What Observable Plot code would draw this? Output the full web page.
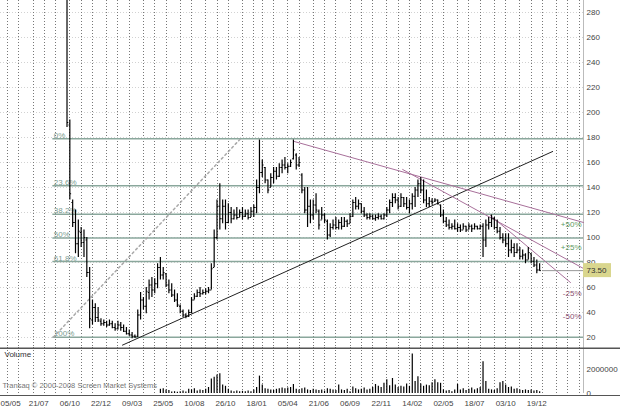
<!DOCTYPE html>
<html><head><meta charset="utf-8">
<script src="https://cdn.jsdelivr.net/npm/d3@7"></script>
<script src="https://cdn.jsdelivr.net/npm/@observablehq/plot@0.6"></script>
<style>
html,body{margin:0;padding:0;background:#fff;}
#chart{width:620px;height:410px;overflow:hidden;}
#chart svg{display:block;}
</style></head><body><div id="chart"></div>
<script>
// ---------- DATA (weekly bars, index 0 = 05/05/2000) ----------
const firstBarIndex = 21;
const highs = [
330,194,130,122,114,108,106,100,76,50,
47,44,35,34,33,34,33,31,33,32,
30,28,26,24,22,42,56,52,60,66,
68,67,79,84,76,71,66,63,58,55,
46,42,39,42,52,55,58,60,58,59,
60,79,106,130,143,130,130,127,124,122,
124,122,124,122,122,124,126,146,178,162,
156,146,151,156,156,159,162,164,159,162,
178,167,164,151,140,140,130,130,135,122,
124,119,114,111,114,116,114,116,116,114,
119,130,132,130,127,124,119,119,118,118,
119,118,119,124,130,135,135,132,135,132,
132,130,135,140,146,148,146,138,132,131,
131,130,126,122,116,114,111,114,111,110,
111,109,111,110,111,109,110,111,114,116,
118,116,114,108,103,103,103,98,95,95,
92,90,87,92,87,84,82,79];
const lows = [
188,130,108,87,84,92,84,68,27,30,
32,32,29,29,28,29,27,25,26,25,
24,22,21,19,19.5,20,34,42,39,50,
52,55,59,66,66,60,55,52,48,44,
39,36,35,36,39,50,52,52,54,54,
55,58,76,98,106,111,106,111,111,114,
114,116,114,116,114,116,116,119,135,148,
143,135,140,143,146,148,151,154,151,156,
162,154,156,135,119,108,111,114,119,106,
114,111,98,100,106,106,106,106,108,108,
111,116,122,122,119,116,114,114,114,113,
114,114,114,116,119,124,127,122,124,124,
122,119,122,124,132,135,127,124,124,126,
128,126,116,111,108,106,106,106,104,104,
106,104,106,104,106,106,106,84,92,106,
108,106,103,98,95,92,84,87,84,87,
82,82,79,82,79,76,71,73];
const opens = [
320,190,128,112,95,104,96,98,72,34,
44,36,33,31,32,30,31,28,27,30,
28,25,23,22,21,21,38,50,45,56,
62,58,63,76,70,71,62,58,54,50,
45,41,38,37,40,50,53,56,55,56,
57,58,76,100,125,115,125,112,120,115,
118,116,120,117,119,116,121,124,140,152,
156,146,140,148,153,149,156,158,156,157,
163,166,158,150,138,122,125,118,126,121,
114,118,113,102,108,110,108,112,109,113,
111,117,128,125,127,121,118,116,117,115,
116,117,115,118,122,128,132,130,125,132,
127,124,127,133,138,143,138,130,127,129,
129,130,126,118,113,110,108,109,107,108,
106,109,106,109,107,109,107,109,98,110,
112,115,108,105,100,98,95,90,92,88,
90,85,86,82,87,81,78,74];
const closes = [
192,135,112,95,105,96,100,72,35,44,
36,34,31,32,30,31,28,27,30,28,
25,23,22,21,20.5,38,50,45,57,62,
58,63,76,70,72,62,58,54,50,46,
41,38,37,40,50,53,56,55,56,57,
58,75,100,125,115,125,112,120,115,118,
116,120,117,119,116,121,124,140,152,158,
146,138,148,153,149,156,158,156,157,160,
170,158,160,138,122,125,118,126,122,110,
118,114,102,108,110,108,112,109,113,111,
117,128,125,127,121,118,116,117,115,116,
117,115,118,122,128,132,130,125,132,127,
124,127,133,138,143,138,130,127,129,128,
130,127,118,113,110,108,109,107,108,106,
109,106,109,107,109,107,109,98,110,112,
115,108,105,100,98,95,90,92,88,90,
85,86,82,88,81,78,74,73.5];

const volumeStartIndex = 54;
const volumes = [
350000,400000,300000,250000,120000,150000,100000,150000,200000,120000,
350000,300000,400000,200000,300000,250000,350000,500000,1200000,1350000,
1550000,1650000,700000,600000,350000,200000,150000,200000,150000,180000,
150000,200000,150000,300000,500000,1450000,700000,400000,350000,300000,
250000,350000,400000,450000,400000,450000,500000,750000,350000,300000,
400000,450000,300000,250000,350000,300000,250000,300000,200000,400000,
350000,300000,250000,700000,300000,250000,350000,150000,550000,400000,
300000,350000,450000,300000,350000,500000,750000,600000,500000,850000,
1150000,650000,1250000,700000,500000,600000,550000,800000,600000,3300000,
1000000,1400000,800000,600000,700000,650000,900000,1150000,900000,850000,
300000,200000,250000,150000,300000,750000,300000,400000,250000,350000,
450000,300000,400000,500000,2650000,1000000,350000,300000,250000,400000,
900000,1000000,700000,500000,550000,350000,400000,300000,250000,300000,
250000,300000,200000,250000,150000];

const dateLabels = ["05/05","21/07","06/10","22/12","09/03","25/05","10/08","26/10","18/01",
  "05/04","21/06","06/09","22/11","14/02","02/05","18/07","03/10","19/12"];
const labelEvery = 11;
const startDate = "2000-05-05";
const skippedWeeks = ["2002-01-04", "2003-01-03"];

const priceTicks = [20,40,60,80,100,120,140,160,180,200,220,240,260,280];
const volumeTicks = [0, 2000000];

const fibLabels = ["0%","23.6%","38.2%","50%","61.8%","100%"];
const fibValues = [179, 141.5, 118.6, 99.7, 80.8, 20.3];
const fibStartIndex = 16;

const fanLabels = ["+50%","+25%","-25%","-50%"];
const fanValues = [110.4, 92.3, 55.5, 36.8];

// trend lines as [bar index, price] pairs
const supportLine = [[40.6, 13.9], [192.6, 168.8]];
const fibDiagonal = [[16.2, 20.3], [82.3, 179]];
const fanLine1 = [[101, 177], [203.5, 112]];
const fanLine2 = [[139.6, 154.4], [203.5, 75.2]];
const fanLine3 = [[170.6, 117.6], [198.9, 64]];

// ---------- BUILD ----------
const xDomain = [-2.5, 203.5];
const priceDomain = [12, 289.6];
const volumeDomain = [0, 3833000];

const bars = highs.map((h, k) => ({i: firstBarIndex + k, high: h, low: lows[k], open: opens[k], close: closes[k]}));
const volBars = volumes.map((v, k) => ({i: volumeStartIndex + k, volume: v}));
const fibLevels = fibLabels.map((label, k) => ({label, value: fibValues[k]}));
const fanLevels = fanLabels.map((label, k) => ({label, value: fanValues[k]}));
const lastBar = bars[bars.length - 1];
const dateTicks = dateLabels.map((label, k) => ({i: k * labelEvery, label}));

const barDates = [];
for (let d = new Date(startDate + "T00:00:00Z"); barDates.length < 210; d = d3.utcDay.offset(d, 7)) {
  if (!skippedWeeks.includes(d.toISOString().slice(0, 10))) barDates.push(d);
}
const monthStarts = barDates.map((d, i) => i)
  .filter(i => i === 0 || barDates[i].getUTCMonth() !== barDates[i - 1].getUTCMonth())
  .filter(i => i <= xDomain[1]);

const font = "'Liberation Sans', Arial, sans-serif";
const baseStyle = {fontFamily: font, fontSize: "8px", color: "#444", background: "white"};
const gridV = {stroke: "#777", strokeDasharray: "1,2", shapeRendering: "crispEdges"};
const xy = {x: d => d[0], y: d => d[1]};

const pricePlot = Plot.plot({
  width: 620, height: 347,
  marginLeft: 0, marginRight: 37, marginTop: 0, marginBottom: 0,
  style: baseStyle,
  x: {domain: xDomain, axis: null},
  y: {domain: priceDomain, axis: "right", ticks: priceTicks, tickSize: 0, tickPadding: 3, tickFormat: "d", label: null},
  marks: [
    Plot.ruleY(priceTicks, {stroke: "#d2d2d2", strokeDasharray: "1,2", shapeRendering: "crispEdges"}),
    Plot.ruleX(monthStarts, gridV),
    Plot.ruleX([xDomain[1]], {stroke: "#bbb"}),
    Plot.ruleY(fibLevels, {y: "value", x1: fibStartIndex, x2: xDomain[1], stroke: "#8aa79c", strokeWidth: 1.5}),
    Plot.text(fibLevels, {x: fibStartIndex, y: "value", text: "label", textAnchor: "start", lineAnchor: "bottom", dx: 1, dy: -1, fill: "#7c9c92", fontSize: 8}),
    Plot.line(fibDiagonal, {...xy, stroke: "#a8a8a8", strokeDasharray: "2,3"}),
    Plot.line(supportLine, {...xy, stroke: "#222", strokeWidth: 1}),
    Plot.line(fanLine1, {...xy, stroke: "#a8709a", strokeWidth: 1}),
    Plot.line(fanLine2, {...xy, stroke: "#a8709a", strokeWidth: 1}),
    Plot.line(fanLine3, {...xy, stroke: "#a8709a", strokeWidth: 1}),
    Plot.ruleX(bars, {x: "i", y1: "low", y2: "high", stroke: "#000", strokeWidth: 1.2, clip: true}),
    Plot.link(bars, {x1: d => d.i - 0.45, x2: "i", y1: "open", y2: "open", stroke: "#000"}),
    Plot.link(bars, {x1: "i", x2: d => d.i + 0.45, y1: "close", y2: "close", stroke: "#000"}),
    Plot.text(fanLevels, {x: xDomain[1], y: "value", text: "label", textAnchor: "end", dx: -2,
      fill: d => d.label.startsWith("+") ? "#5e9a62" : "#8a4f72", fontSize: 8}),
    Plot.ruleY([lastBar], {y: "close", x1: d => d.i + 1, x2: xDomain[1], stroke: "#999"}),
    Plot.rect([lastBar], {x1: xDomain[1], x2: xDomain[1], y1: "close", y2: "close",
      insetRight: -28, insetTop: -7, insetBottom: -7, fill: "#d9d68e"}),
    Plot.text([lastBar], {x: xDomain[1], y: "close", text: d => d3.format(".2f")(d.close),
      textAnchor: "start", dx: 3, fill: "#333", fontSize: 8})
  ]
});

const volumePlot = Plot.plot({
  width: 620, height: 63,
  marginLeft: 0, marginRight: 37, marginTop: 0, marginBottom: 17,
  style: baseStyle,
  x: {domain: xDomain, axis: null},
  y: {domain: volumeDomain, axis: "right", ticks: volumeTicks, tickFormat: "d", tickSize: 0, tickPadding: 3, label: null},
  marks: [
    Plot.ruleX(monthStarts, {...gridV, y1: 0, y2: volumeDomain[1]}),
    Plot.ruleX([xDomain[1]], {stroke: "#bbb", y1: 0, y2: volumeDomain[1]}),
    Plot.text(["Transaq © 2000-2008 Screen Market Systems"], {frameAnchor: "bottom-left", dx: 2, dy: -8,
      textAnchor: "start", lineAnchor: "middle", fill: "#777", fontSize: 7.5}),
    Plot.ruleX(volBars, {x: "i", y1: 0, y2: "volume", stroke: "#000", strokeWidth: 1.2}),
    Plot.ruleY([volumeDomain[1]], {stroke: "#555", strokeWidth: 1.5, dy: 0.75, insetRight: -37}),
    Plot.ruleY([0], {stroke: "#555", strokeWidth: 1.2, dy: 2, insetRight: -37}),
    Plot.text(["Volume"], {frameAnchor: "top-left", dx: 4, dy: 4, textAnchor: "start", lineAnchor: "top", fill: "#333", fontSize: 8}),
    Plot.text(dateTicks.slice(0, 1), {x: "i", text: "label", frameAnchor: "bottom", dy: 10, dx: -7,
      textAnchor: "start", lineAnchor: "middle", fill: "#444", fontSize: 8}),
    Plot.text(dateTicks.slice(1), {x: "i", text: "label", frameAnchor: "bottom", dy: 10,
      textAnchor: "middle", lineAnchor: "middle", fill: "#444", fontSize: 8})
  ]
});

const chart = document.getElementById("chart");
chart.appendChild(pricePlot);
chart.appendChild(volumePlot);
</script>
</body></html>
